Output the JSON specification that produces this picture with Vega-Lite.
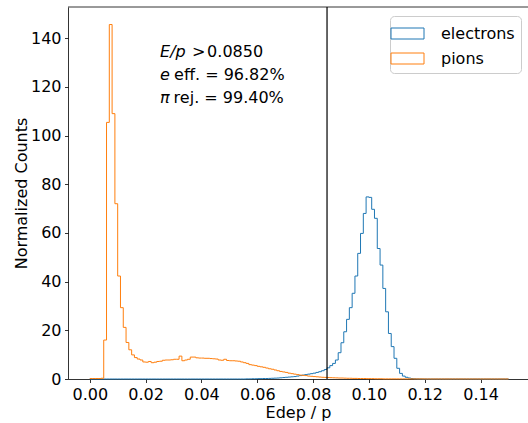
{
  "$schema": "https://vega.github.io/schema/vega-lite/v6.json",
  "autosize": {"type": "none"},
  "padding": {"left": 68, "top": 7, "right": 0, "bottom": 44},
  "width": 460,
  "height": 372,
  "config": {
    "font": "DejaVu Sans",
    "view": {"stroke": null},
    "axis": {
      "grid": false,
      "domainColor": "black",
      "domainWidth": 0.8,
      "tickColor": "black",
      "tickWidth": 0.8,
      "tickSize": 3.5,
      "labelPadding": 3.5,
      "labelFontSize": 16,
      "labelColor": "black",
      "titleFontSize": 16,
      "titleFontWeight": "normal",
      "titleColor": "black"
    }
  },
  "layer": [
    {
      "data": {
        "values": [
          {"x":0.000,"electrons":0,"pions":0.2},{"x":0.001,"electrons":0,"pions":0.2},{"x":0.002,"electrons":0,"pions":0.2},{"x":0.003,"electrons":0,"pions":0.2},{"x":0.004,"electrons":0,"pions":0.3},
          {"x":0.005,"electrons":0,"pions":16},{"x":0.006,"electrons":0,"pions":105.4},{"x":0.007,"electrons":0,"pions":145.6},{"x":0.008,"electrons":0,"pions":109},{"x":0.009,"electrons":0,"pions":72},
          {"x":0.010,"electrons":0,"pions":42.3},{"x":0.011,"electrons":0,"pions":29.3},{"x":0.012,"electrons":0,"pions":21.2},{"x":0.013,"electrons":0,"pions":15},{"x":0.014,"electrons":0,"pions":12},
          {"x":0.015,"electrons":0,"pions":9.9},{"x":0.016,"electrons":0,"pions":8.8},{"x":0.017,"electrons":0,"pions":8.2},{"x":0.018,"electrons":0,"pions":7.8},{"x":0.019,"electrons":0,"pions":7.0},
          {"x":0.020,"electrons":0,"pions":6.9},{"x":0.021,"electrons":0,"pions":7.2},{"x":0.022,"electrons":0,"pions":6.7},{"x":0.023,"electrons":0,"pions":6.9},{"x":0.024,"electrons":0,"pions":7.2},
          {"x":0.025,"electrons":0,"pions":7.3},{"x":0.026,"electrons":0,"pions":7.7},{"x":0.027,"electrons":0,"pions":7.8},{"x":0.028,"electrons":0,"pions":7.8},{"x":0.029,"electrons":0,"pions":7.9},
          {"x":0.030,"electrons":0,"pions":8.1},{"x":0.031,"electrons":0,"pions":8.1},{"x":0.032,"electrons":0,"pions":9.4},{"x":0.033,"electrons":0,"pions":7.5},{"x":0.034,"electrons":0,"pions":7.8},
          {"x":0.035,"electrons":0,"pions":8.1},{"x":0.036,"electrons":0,"pions":9.0},{"x":0.037,"electrons":0,"pions":9.0},{"x":0.038,"electrons":0,"pions":8.7},{"x":0.039,"electrons":0,"pions":8.6},
          {"x":0.040,"electrons":0,"pions":8.6},{"x":0.041,"electrons":0,"pions":8.5},{"x":0.042,"electrons":0,"pions":8.5},{"x":0.043,"electrons":0,"pions":8.4},{"x":0.044,"electrons":0,"pions":8.3},
          {"x":0.045,"electrons":0,"pions":8.2},{"x":0.046,"electrons":0,"pions":7.8},{"x":0.047,"electrons":0,"pions":7.7},{"x":0.048,"electrons":0,"pions":8.1},{"x":0.049,"electrons":0,"pions":7.6},
          {"x":0.050,"electrons":0,"pions":7.5},{"x":0.051,"electrons":0,"pions":7.5},{"x":0.052,"electrons":0,"pions":7.4},{"x":0.053,"electrons":0,"pions":7.3},{"x":0.054,"electrons":0,"pions":7.0},
          {"x":0.055,"electrons":0,"pions":6.7},{"x":0.056,"electrons":0.05,"pions":6.4},{"x":0.057,"electrons":0.05,"pions":5.9},{"x":0.058,"electrons":0.1,"pions":5.7},{"x":0.059,"electrons":0.1,"pions":5.5},
          {"x":0.060,"electrons":0.15,"pions":5.2},{"x":0.061,"electrons":0.15,"pions":5.0},{"x":0.062,"electrons":0.2,"pions":4.8},{"x":0.063,"electrons":0.2,"pions":4.5},{"x":0.064,"electrons":0.25,"pions":4.2},
          {"x":0.065,"electrons":0.3,"pions":4.0},{"x":0.066,"electrons":0.35,"pions":3.7},{"x":0.067,"electrons":0.4,"pions":3.4},{"x":0.068,"electrons":0.5,"pions":3.1},{"x":0.069,"electrons":0.6,"pions":2.9},
          {"x":0.070,"electrons":0.7,"pions":2.7},{"x":0.071,"electrons":0.8,"pions":2.4},{"x":0.072,"electrons":0.9,"pions":2.2},{"x":0.073,"electrons":1.0,"pions":2.0},{"x":0.074,"electrons":1.2,"pions":1.8},
          {"x":0.075,"electrons":1.4,"pions":1.6},{"x":0.076,"electrons":1.6,"pions":1.5},{"x":0.077,"electrons":1.8,"pions":1.4},{"x":0.078,"electrons":2.0,"pions":1.2},{"x":0.079,"electrons":2.2,"pions":1.1},
          {"x":0.080,"electrons":2.4,"pions":1.0},{"x":0.081,"electrons":2.7,"pions":0.9},{"x":0.082,"electrons":3.0,"pions":0.8},{"x":0.083,"electrons":3.4,"pions":0.7},{"x":0.084,"electrons":3.9,"pions":0.65},
          {"x":0.085,"electrons":4.6,"pions":0.6},{"x":0.086,"electrons":5.5,"pions":0.55},{"x":0.087,"electrons":6.4,"pions":0.5},{"x":0.088,"electrons":7.8,"pions":0.45},{"x":0.089,"electrons":10.8,"pions":0.4},
          {"x":0.090,"electrons":14.9,"pions":0.4},{"x":0.091,"electrons":19.4,"pions":0.35},{"x":0.092,"electrons":24.5,"pions":0.3},{"x":0.093,"electrons":29.3,"pions":0.3},{"x":0.094,"electrons":35.2,"pions":0.25},
          {"x":0.095,"electrons":42.3,"pions":0.25},{"x":0.096,"electrons":51.6,"pions":0.2},{"x":0.097,"electrons":59.8,"pions":0.2},{"x":0.098,"electrons":68.0,"pions":0.2},{"x":0.099,"electrons":74.8,"pions":0.15},
          {"x":0.100,"electrons":74.6,"pions":0.15},{"x":0.101,"electrons":69.7,"pions":0.15},{"x":0.102,"electrons":66.0,"pions":0.1},{"x":0.103,"electrons":53.6,"pions":0.1},{"x":0.104,"electrons":46.8,"pions":0.1},
          {"x":0.105,"electrons":37.2,"pions":0.05},{"x":0.106,"electrons":27.6,"pions":0.05},{"x":0.107,"electrons":18.7,"pions":0.05},{"x":0.108,"electrons":13.3,"pions":0.05},{"x":0.109,"electrons":8.5,"pions":0.05},
          {"x":0.110,"electrons":4.4,"pions":0.05},{"x":0.111,"electrons":2.3,"pions":0.05},{"x":0.112,"electrons":1.2,"pions":0.05},{"x":0.113,"electrons":0.7,"pions":0.05},{"x":0.114,"electrons":0.4,"pions":0.05},
          {"x":0.115,"electrons":0.2,"pions":0.05},{"x":0.116,"electrons":0.1,"pions":0.05},{"x":0.117,"electrons":0.05,"pions":0.05},{"x":0.118,"electrons":0.02,"pions":0.05},{"x":0.119,"electrons":0,"pions":0.05},
          {"x":0.120,"electrons":0,"pions":0.02},{"x":0.121,"electrons":0,"pions":0.02},{"x":0.122,"electrons":0,"pions":0.02},{"x":0.123,"electrons":0,"pions":0.02},{"x":0.124,"electrons":0,"pions":0.02},
          {"x":0.125,"electrons":0,"pions":0.02},{"x":0.126,"electrons":0,"pions":0.02},{"x":0.127,"electrons":0,"pions":0.02},{"x":0.128,"electrons":0,"pions":0.02},{"x":0.129,"electrons":0,"pions":0.02},
          {"x":0.130,"electrons":0,"pions":0.02},{"x":0.131,"electrons":0,"pions":0.02},{"x":0.132,"electrons":0,"pions":0.02},{"x":0.133,"electrons":0,"pions":0.02},{"x":0.134,"electrons":0,"pions":0.02},
          {"x":0.135,"electrons":0,"pions":0.02},{"x":0.136,"electrons":0,"pions":0.02},{"x":0.137,"electrons":0,"pions":0.02},{"x":0.138,"electrons":0,"pions":0.02},{"x":0.139,"electrons":0,"pions":0.02},
          {"x":0.140,"electrons":0,"pions":0.02},{"x":0.141,"electrons":0,"pions":0.02},{"x":0.142,"electrons":0,"pions":0.02},{"x":0.143,"electrons":0,"pions":0.02},{"x":0.144,"electrons":0,"pions":0.02},
          {"x":0.145,"electrons":0,"pions":0.02},{"x":0.146,"electrons":0,"pions":0.02},{"x":0.147,"electrons":0,"pions":0.02},{"x":0.148,"electrons":0,"pions":0.02},{"x":0.149,"electrons":0,"pions":0.02},
          {"x":0.150,"electrons":0,"pions":0}
        ]
      },
      "transform": [{"fold": ["electrons", "pions"], "as": ["species", "y"]}],
      "mark": {"type": "line", "interpolate": "step-after", "strokeWidth": 1},
      "encoding": {
        "x": {
          "field": "x", "type": "quantitative",
          "scale": {"domain": [-0.0078, 0.157], "nice": false, "zero": false},
          "axis": {"title": "Edep / p", "values": [0, 0.02, 0.04, 0.06, 0.08, 0.1, 0.12, 0.14], "format": ".2f", "labelFlush": false, "titlePadding": 2}
        },
        "y": {
          "field": "y", "type": "quantitative",
          "scale": {"domain": [0, 152.8], "nice": false},
          "axis": {"title": "Normalized Counts", "values": [0, 20, 40, 60, 80, 100, 120, 140], "titlePadding": 1}
        },
        "color": {
          "field": "species", "type": "nominal",
          "scale": {"domain": ["electrons", "pions"], "range": ["#1f77b4", "#ff7f0e"]},
          "legend": {
            "title": null,
            "orient": "none",
            "legendX": 322,
            "legendY": 9,
            "padding": 6,
            "symbolType": "M-1.5,-0.5H1.5V0.5H-1.5Z",
            "symbolSize": 484,
            "symbolStrokeWidth": 1,
            "symbolFillColor": "transparent",
            "labelFontSize": 16,
            "labelColor": "black",
            "labelOffset": 22,
            "rowPadding": 5,
            "strokeColor": "#cccccc",
            "fillColor": "white",
            "cornerRadius": 4
          }
        }
      }
    },
    {
      "data": {"values": [{}]},
      "mark": {"type": "rule", "color": "black", "strokeWidth": 1.2},
      "encoding": {"x": {"datum": 0.085, "type": "quantitative"}}
    },
    {
      "data": {"values": [{}]},
      "mark": {"type": "rule", "color": "black", "strokeWidth": 0.8},
      "encoding": {"y": {"datum": 152.8, "type": "quantitative"}}
    },
    {
      "data": {"values": [{}]},
      "mark": {"type": "text", "text": "E/p", "fontStyle": "italic", "fontSize": 16, "align": "left", "baseline": "alphabetic", "color": "black"},
      "encoding": {"x": {"datum": 0.0252, "type": "quantitative"}, "y": {"datum": 132.3, "type": "quantitative"}}
    },
    {
      "data": {"values": [{}]},
      "mark": {"type": "text", "text": ">", "fontSize": 16, "align": "left", "baseline": "alphabetic", "dx": 32, "color": "black"},
      "encoding": {"x": {"datum": 0.0252, "type": "quantitative"}, "y": {"datum": 132.3, "type": "quantitative"}}
    },
    {
      "data": {"values": [{}]},
      "mark": {"type": "text", "text": "0.0850", "fontSize": 16, "align": "left", "baseline": "alphabetic", "dx": 47, "color": "black"},
      "encoding": {"x": {"datum": 0.0252, "type": "quantitative"}, "y": {"datum": 132.3, "type": "quantitative"}}
    },
    {
      "data": {"values": [{}]},
      "mark": {"type": "text", "text": "e", "fontStyle": "italic", "fontSize": 16, "align": "left", "baseline": "alphabetic", "color": "black"},
      "encoding": {"x": {"datum": 0.0252, "type": "quantitative"}, "y": {"datum": 122.7, "type": "quantitative"}}
    },
    {
      "data": {"values": [{}]},
      "mark": {"type": "text", "text": "eff. = 96.82%", "fontSize": 16, "align": "left", "baseline": "alphabetic", "dx": 14, "color": "black"},
      "encoding": {"x": {"datum": 0.0252, "type": "quantitative"}, "y": {"datum": 122.7, "type": "quantitative"}}
    },
    {
      "data": {"values": [{}]},
      "mark": {"type": "text", "text": "π", "fontStyle": "italic", "fontSize": 16, "align": "left", "baseline": "alphabetic", "color": "black"},
      "encoding": {"x": {"datum": 0.0252, "type": "quantitative"}, "y": {"datum": 113.5, "type": "quantitative"}}
    },
    {
      "data": {"values": [{}]},
      "mark": {"type": "text", "text": "rej. = 99.40%", "fontSize": 16, "align": "left", "baseline": "alphabetic", "dx": 13.5, "color": "black"},
      "encoding": {"x": {"datum": 0.0252, "type": "quantitative"}, "y": {"datum": 113.5, "type": "quantitative"}}
    }
  ]
}
